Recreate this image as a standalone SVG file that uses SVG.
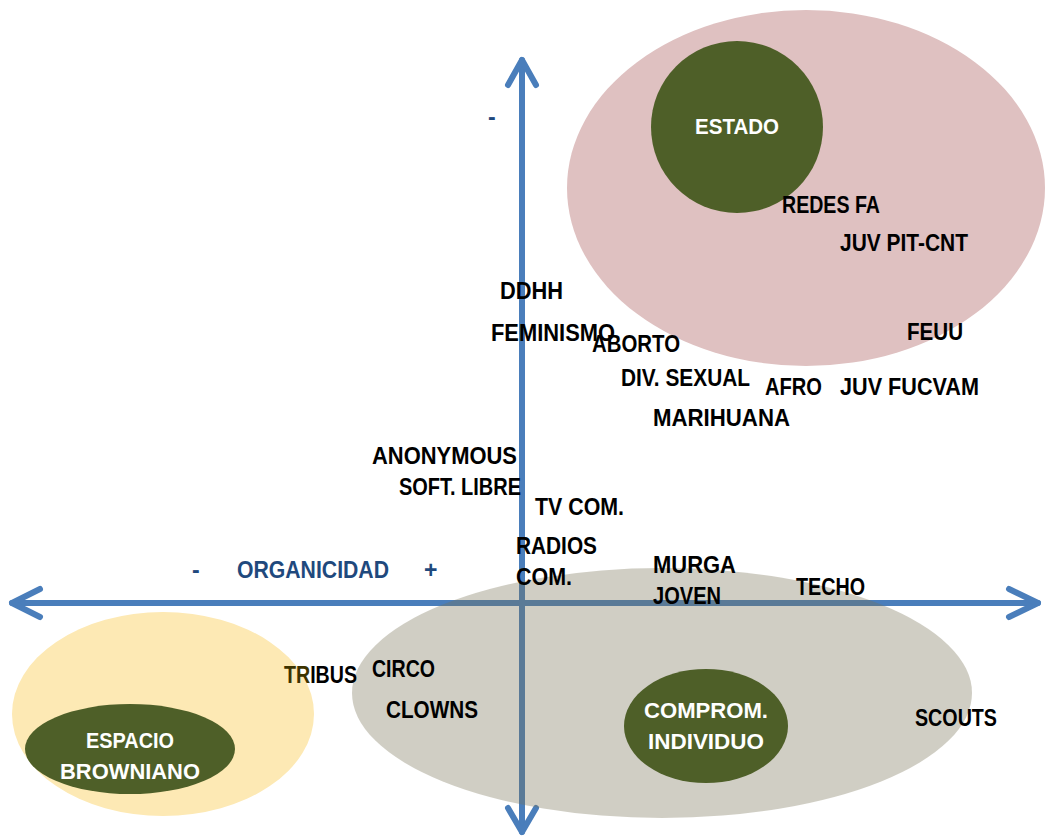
<svg xmlns="http://www.w3.org/2000/svg" width="1045" height="836" viewBox="0 0 1045 836">
<style>
.ax{stroke:#4a7ebb;stroke-width:6;fill:none;stroke-linecap:round;stroke-linejoin:round}
.t{font-family:"Liberation Sans",Arial,sans-serif;font-weight:bold;font-size:23px;fill:#000}
.w{font-family:"Liberation Sans",Arial,sans-serif;font-weight:bold;font-size:22px;fill:#fff;text-anchor:middle}
.b{font-family:"Liberation Sans",Arial,sans-serif;font-weight:bold;font-size:23px;fill:#1f497d}
.g{fill:#4e5f28}
</style>
<g id="bg-estado"><ellipse cx="806" cy="188" rx="239" ry="178" fill="#dfc1c1"/></g>
<g id="bg-browniano"><ellipse cx="163" cy="714" rx="151" ry="102" fill="#fde9b4"/></g>
<g id="connectors">
<line class="ax" x1="12" y1="603" x2="1038" y2="603"/>
<polyline class="ax" points="40,589 12,603 40,617"/>
<polyline class="ax" points="1009,589 1038,603 1009,617"/>
<line class="ax" x1="522" y1="60" x2="522" y2="832"/>
<polyline class="ax" points="508,85 522,60 536,85"/>
<polyline class="ax" points="508,808 522,832 536,808"/>
</g>
<g id="bg-comprom"><ellipse cx="662" cy="693" rx="310" ry="125" fill="#787256" opacity="0.35"/></g>
<g id="estado"><circle class="g" cx="737" cy="127" r="86"/><text class="w" x="737" y="134" textLength="84" lengthAdjust="spacingAndGlyphs">ESTADO</text></g>
<g id="espacio"><ellipse class="g" cx="130" cy="749" rx="105" ry="45"/><text class="w" x="130" y="748" textLength="88" lengthAdjust="spacingAndGlyphs">ESPACIO</text><text class="w" x="130" y="779" textLength="140" lengthAdjust="spacingAndGlyphs">BROWNIANO</text></g>
<g id="comprom"><ellipse class="g" cx="706" cy="726" rx="82" ry="57"/><text class="w" x="706" y="718" textLength="124" lengthAdjust="spacingAndGlyphs">COMPROM.</text><text class="w" x="706" y="749" textLength="116" lengthAdjust="spacingAndGlyphs">INDIVIDUO</text></g>
<g id="labels">
<text class="b" x="488" y="125">-</text>
<text class="b" x="192" y="578">-</text>
<text class="b" x="237" y="578" textLength="152" lengthAdjust="spacingAndGlyphs">ORGANICIDAD</text>
<text class="b" x="424" y="578">+</text>
<text class="t" x="500" y="299" textLength="63" lengthAdjust="spacingAndGlyphs">DDHH</text>
<text class="t" x="491" y="341" textLength="124" lengthAdjust="spacingAndGlyphs">FEMINISMO</text>
<text class="t" x="592" y="352" textLength="88" lengthAdjust="spacingAndGlyphs">ABORTO</text>
<text class="t" x="621" y="386" textLength="129" lengthAdjust="spacingAndGlyphs">DIV. SEXUAL</text>
<text class="t" x="765" y="395" textLength="57" lengthAdjust="spacingAndGlyphs">AFRO</text>
<text class="t" x="840" y="395" textLength="139" lengthAdjust="spacingAndGlyphs">JUV FUCVAM</text>
<text class="t" x="653" y="426" textLength="137" lengthAdjust="spacingAndGlyphs">MARIHUANA</text>
<text class="t" x="782" y="213" textLength="98" lengthAdjust="spacingAndGlyphs">REDES FA</text>
<text class="t" x="840" y="251" textLength="128" lengthAdjust="spacingAndGlyphs">JUV PIT-CNT</text>
<text class="t" x="907" y="340" textLength="56" lengthAdjust="spacingAndGlyphs">FEUU</text>
<text class="t" x="372" y="464" textLength="145" lengthAdjust="spacingAndGlyphs">ANONYMOUS</text>
<text class="t" x="399" y="495" textLength="122" lengthAdjust="spacingAndGlyphs">SOFT. LIBRE</text>
<text class="t" x="535" y="515" textLength="89" lengthAdjust="spacingAndGlyphs">TV COM.</text>
<text class="t" x="516" y="554" textLength="81" lengthAdjust="spacingAndGlyphs">RADIOS</text>
<text class="t" x="516" y="585" textLength="56" lengthAdjust="spacingAndGlyphs">COM.</text>
<text class="t" x="653" y="573" textLength="83" lengthAdjust="spacingAndGlyphs">MURGA</text>
<text class="t" x="653" y="604" textLength="68" lengthAdjust="spacingAndGlyphs">JOVEN</text>
<text class="t" x="796" y="595" textLength="69" lengthAdjust="spacingAndGlyphs">TECHO</text>
<text class="t" x="284" y="683" textLength="73" lengthAdjust="spacingAndGlyphs"><tspan fill="#3d3300">TR</tspan>IBUS</text>
<text class="t" x="372" y="677" textLength="63" lengthAdjust="spacingAndGlyphs">CIRCO</text>
<text class="t" x="386" y="718" textLength="92" lengthAdjust="spacingAndGlyphs">CLOWNS</text>
<text class="t" x="915" y="726" textLength="82" lengthAdjust="spacingAndGlyphs">SCOUTS</text>
</g>
</svg>
